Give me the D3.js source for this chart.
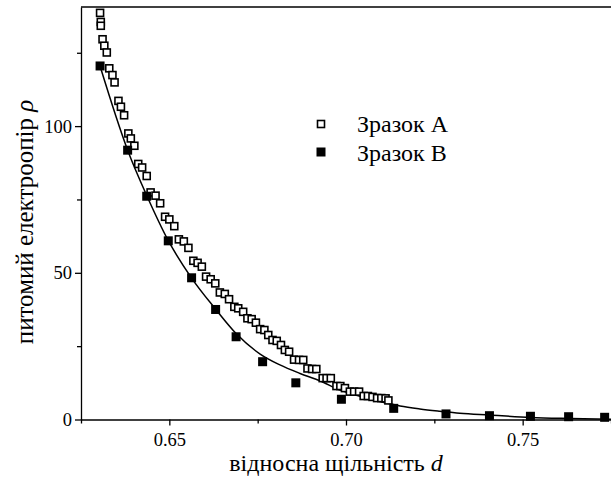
<!DOCTYPE html>
<meta charset="utf-8">
<body style="margin:0">
<div id="my_dataviz"></div>
<script src="https://d3js.org/d3.v7.min.js"></script>
<script>

// Sample A (open squares): relative density d, resistivity rho
var densityA = [0.6304, 0.6306, 0.6306, 0.6311, 0.6316, 0.6323, 0.6330, 0.6339, 0.6345, 0.6356,
                0.6363, 0.6372, 0.6384, 0.6391, 0.6401, 0.6412, 0.6423, 0.6436, 0.6447, 0.6461,
                0.6474, 0.6488, 0.6500, 0.6514, 0.6527, 0.6541, 0.6554, 0.6568, 0.6580, 0.6592,
                0.6604, 0.6617, 0.6630, 0.6643, 0.6657, 0.6669, 0.6684, 0.6695, 0.6709, 0.6721,
                0.6733, 0.6745, 0.6757, 0.6769, 0.6780, 0.6792, 0.6804, 0.6816, 0.6827, 0.6839,
                0.6853, 0.6867, 0.6879, 0.6891, 0.6904, 0.6916, 0.6934, 0.6945, 0.6957, 0.6973,
                0.6984, 0.6997, 0.7011, 0.7023, 0.7037, 0.7050, 0.7062, 0.7075, 0.7088, 0.7100,
                0.7112, 0.7120];
var rhoA = [138.6, 135.5, 134.2, 129.6, 127.4, 125.1, 119.7, 117.4, 114.9, 108.6,
            106.6, 103.7, 97.5, 95.8, 93.3, 87.1, 85.9, 83.0, 77.4, 76.3,
            73.7, 69.1, 68.2, 65.9, 61.4, 60.7, 58.5, 54.1, 53.4, 52.1,
            48.7, 47.8, 46.4, 43.3, 42.8, 41.0, 38.4, 37.9, 36.7, 34.5,
            34.2, 33.0, 30.8, 30.5, 28.8, 27.1, 26.8, 25.4, 23.7, 23.1,
            20.4, 20.3, 20.3, 17.4, 17.2, 17.2, 14.1, 14.1, 14.1, 11.4,
            11.4, 10.7, 9.5, 9.5, 9.5, 8.0, 8.0, 7.7, 7.3, 7.3,
            7.2, 6.5];

// Sample B (filled squares)
var densityB = [0.6304, 0.6382, 0.6436, 0.6497, 0.6563, 0.6631, 0.6689, 0.6764, 0.6858, 0.6987,
                0.7135, 0.7283, 0.7406, 0.7522, 0.7630, 0.7732];
var rhoB = [120.5, 91.8, 76.1, 60.9, 48.3, 37.5, 28.2, 19.7, 12.5, 6.9,
            3.8, 1.9, 1.3, 1.1, 0.95, 0.75];

// fitted curve
var densityFit = [0.6304, 0.6382, 0.6437, 0.6496, 0.6563, 0.6631, 0.6689, 0.6757, 0.6813, 0.6870,
                  0.6926, 0.6983, 0.7039, 0.7096, 0.7153, 0.7209, 0.7266, 0.7322, 0.7406, 0.7522,
                  0.7634, 0.7750];
var rhoFit = [120.4, 91.8, 76.1, 61.2, 48.2, 37.6, 29.3, 22.3, 18.6, 15.7,
              13.2, 10.0, 7.9, 6.1, 4.6, 3.6, 2.8, 2.1, 1.5, 0.7,
              0.35, 0.1];

var xMajor = [0.65, 0.70, 0.75];
var xMinor = [0.625, 0.675, 0.725, 0.775];
var yMajor = [0, 50, 100];
var yMinor = [25, 75, 125];

var seriesNames = ["Зразок A", "Зразок B"];

var W = 611, H = 477;
var margin = {top: 7, left: 81, bottom: 57.5};

var svg = d3.select("#my_dataviz")
  .append("svg")
    .attr("width", W)
    .attr("height", H)
    .attr("font-family", "Liberation Serif, Times New Roman, serif");

var x = d3.scaleLinear()
  .domain([0.625, 0.775])
  .range([margin.left, W]);

var y = d3.scaleLinear()
  .domain([0, 140.6])
  .range([H - margin.bottom, margin.top]);

function styleAxis(g) {
  g.attr("font-family", null).attr("font-size", 18.5);
  g.selectAll("line").attr("stroke-width", 1.3);
  g.select(".domain").attr("stroke-width", 1.3);
  g.selectAll("text").attr("fill", "#000");
}

// X axis
svg.append("g")
  .attr("transform", "translate(0," + y(0) + ")")
  .call(d3.axisBottom(x).tickValues(xMajor).tickFormat(d3.format(".2f")).tickSize(6).tickSizeOuter(0).tickPadding(7))
  .call(styleAxis);
svg.append("g")
  .attr("transform", "translate(0," + y(0) + ")")
  .call(d3.axisBottom(x).tickValues(xMinor).tickFormat("").tickSize(4).tickSizeOuter(0))
  .call(styleAxis)
  .select(".domain").remove();

// Y axis
svg.append("g")
  .attr("transform", "translate(" + x(0.625) + ",0)")
  .call(d3.axisLeft(y).tickValues(yMajor).tickSize(6).tickSizeOuter(0).tickPadding(3))
  .call(styleAxis);
svg.append("g")
  .attr("transform", "translate(" + x(0.625) + ",0)")
  .call(d3.axisLeft(y).tickValues(yMinor).tickFormat("").tickSize(4).tickSizeOuter(0))
  .call(styleAxis)
  .select(".domain").remove();

// top frame
svg.append("line")
  .attr("x1", x(0.625)).attr("x2", W)
  .attr("y1", y(140.6)).attr("y2", y(140.6))
  .attr("stroke", "#000").attr("stroke-width", 1.5);

// axis titles
var xt = svg.append("text")
  .attr("x", 336)
  .attr("y", 471)
  .attr("text-anchor", "middle")
  .attr("font-size", 24)
  .text("відносна щільність ");
xt.append("tspan").attr("font-style", "italic").text("d");

var yt = svg.append("text")
  .attr("transform", "translate(33,222) rotate(-90)")
  .attr("text-anchor", "middle")
  .attr("font-size", 25)
  .text("питомий електроопір ");
yt.append("tspan").attr("font-style", "italic").text("ρ");

// fit curve
var fit = densityFit.map(function(d, i) { return {d: d, r: rhoFit[i]}; });
svg.append("path")
  .datum(fit)
  .attr("fill", "none")
  .attr("stroke", "#000")
  .attr("stroke-width", 1.5)
  .attr("d", d3.line()
    .curve(d3.curveMonotoneX)
    .x(function(p) { return x(p.d); })
    .y(function(p) { return y(p.r); }));

// sample A
var ptsA = densityA.map(function(d, i) { return {d: d, r: rhoA[i]}; });
svg.append("g").selectAll("rect")
  .data(ptsA)
  .enter()
  .append("rect")
    .attr("x", function(p) { return x(p.d) - 3.5; })
    .attr("y", function(p) { return y(p.r) - 3.5; })
    .attr("width", 7)
    .attr("height", 7)
    .attr("fill", "#fff")
    .attr("stroke", "#000")
    .attr("stroke-width", 1.6);

// sample B
var ptsB = densityB.map(function(d, i) { return {d: d, r: rhoB[i]}; });
svg.append("g").selectAll("rect")
  .data(ptsB)
  .enter()
  .append("rect")
    .attr("x", function(p) { return x(p.d) - 4.5; })
    .attr("y", function(p) { return y(p.r) - 4.5; })
    .attr("width", 9)
    .attr("height", 9)
    .attr("fill", "#000");

// legend
var legend = svg.append("g");
legend.append("rect")
  .attr("x", 317.5).attr("y", 120.5).attr("width", 7).attr("height", 7)
  .attr("fill", "#fff").attr("stroke", "#000").attr("stroke-width", 1.6);
legend.append("rect")
  .attr("x", 316.5).attr("y", 147.5).attr("width", 9).attr("height", 9)
  .attr("fill", "#000");
legend.selectAll("text")
  .data(seriesNames)
  .enter()
  .append("text")
    .attr("x", 357)
    .attr("y", function(d, i) { return 132 + i * 29; })
    .attr("font-size", 24)
    .text(function(d) { return d; });

</script>
</body>
